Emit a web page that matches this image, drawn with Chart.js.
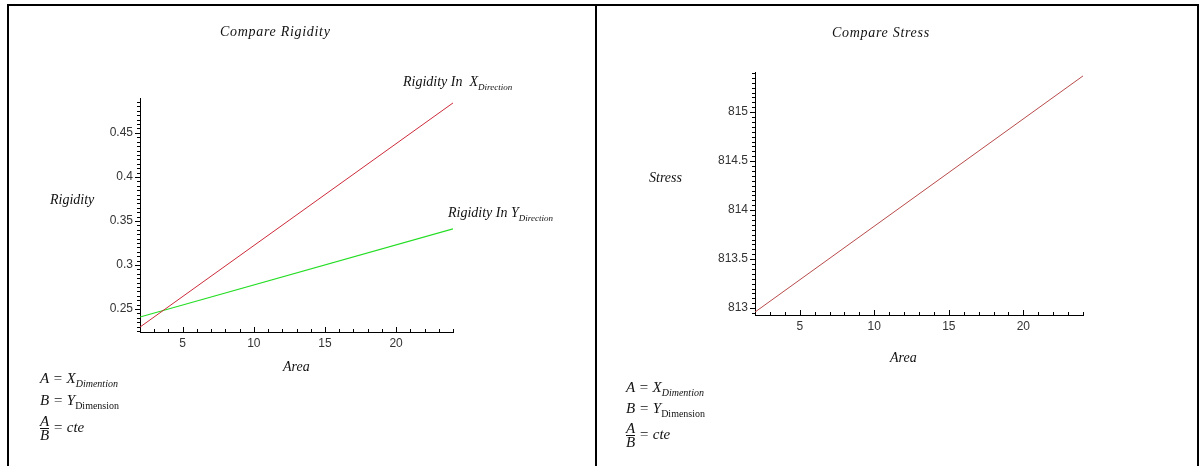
<!DOCTYPE html>
<html>
<head>
<meta charset="utf-8">
<script src="https://cdn.jsdelivr.net/npm/chart.js@4.4.1/dist/chart.umd.min.js"></script>
<style>
  body { margin: 0; background: #fff; width: 1202px; height: 466px; overflow: hidden; position: relative; }
  canvas { position: absolute; top: 0; }
  .line { position: absolute; background: #000; }
  .t { position: absolute; font-family: "Liberation Serif", "Times New Roman", serif; font-style: italic; font-size: 14px; line-height: 14px; color: #111; white-space: nowrap; }
  .title { letter-spacing: 0.7px; }
  .sub { font-size: 9px; position: relative; top: 4px; }
  .f { font-size: 15px; line-height: 15px; }
  .f .sub { font-size: 10px; }
  .subr { font-size: 10px; font-style: normal; position: relative; top: 4px; }
  .frac { display: inline-block; vertical-align: middle; text-align: center; }
  .frac span { display: block; line-height: 13px; }
  .frac .num { border-bottom: 1px solid #111; }
</style>
</head>
<body>
<div class="line" style="left:7px;top:4px;width:1192px;height:2px"></div>
<div class="line" style="left:7px;top:4px;width:2px;height:462px"></div>
<div class="line" style="left:595px;top:4px;width:2px;height:462px"></div>
<div class="line" style="left:1197px;top:4px;width:2px;height:462px"></div>

<canvas id="rigidityChart" width="598" height="466" style="left:0"></canvas>
<canvas id="stressChart" width="602" height="466" style="left:598px"></canvas>

<div class="t title" style="left:220px;top:25px">Compare Rigidity</div>
<div class="t" style="left:50px;top:193px">Rigidity</div>
<div class="t" style="left:283px;top:360px">Area</div>
<div class="t" style="left:403px;top:75px">Rigidity In&nbsp; X<span class="sub">Direction</span></div>
<div class="t" style="left:448px;top:206px">Rigidity In Y<span class="sub">Direction</span></div>

<div class="t f" style="left:40px;top:371px">A = X<span class="sub">Dimention</span></div>
<div class="t f" style="left:40px;top:393px">B = Y<span class="subr">Dimension</span></div>
<div class="t f" style="left:40px;top:415px"><span class="frac"><span class="num">A</span><span>B</span></span> = cte</div>

<div class="t title" style="left:832px;top:26px">Compare Stress</div>
<div class="t" style="left:649px;top:171px">Stress</div>
<div class="t" style="left:890px;top:351px">Area</div>

<div class="t f" style="left:626px;top:380px">A = X<span class="sub">Dimention</span></div>
<div class="t f" style="left:626px;top:401px">B = Y<span class="subr">Dimension</span></div>
<div class="t f" style="left:626px;top:422px"><span class="frac"><span class="num">A</span><span>B</span></span> = cte</div>

<script>
// data
var areas = [2, 24];
var rigidityX = [0.2296, 0.484];
var rigidityY = [0.241, 0.341];
var stress = [812.96, 815.37];

var areaTicks = [5, 10, 15, 20];
var rigidityTicks = [0.25, 0.3, 0.35, 0.4, 0.45];
var stressTicks = [813, 813.5, 814, 814.5, 815];

function points(xs, ys) {
  return xs.map(function (x, i) { return { x: x, y: ys[i] }; });
}

// maple style tick marks: x ticks point up, y ticks point left
function tickMarks(xMinor, yMinor, yMajor) {
  return {
    id: 'tickMarks',
    afterDraw: function (chart) {
      var ctx = chart.ctx;
      var xs = chart.scales.x, ys = chart.scales.y;
      var area = chart.chartArea;
      ctx.save();
      ctx.strokeStyle = '#000';
      ctx.lineWidth = 1;
      ctx.beginPath();
      for (var v = Math.ceil(xs.min / xMinor) * xMinor; v <= xs.max + 1e-9; v += xMinor) {
        var px = Math.round(xs.getPixelForValue(v)) + 0.5;
        var len = Math.abs(v % 5) < 1e-9 ? 5 : 3;
        ctx.moveTo(px, area.bottom);
        ctx.lineTo(px, area.bottom - len);
      }
      var n0 = Math.ceil(ys.min / yMinor - 1e-9);
      var n1 = Math.floor(ys.max / yMinor + 1e-9);
      for (var n = n0; n <= n1; n++) {
        var val = n * yMinor;
        var py = Math.round(ys.getPixelForValue(val)) + 0.5;
        var r = val / yMajor;
        var isMajor = Math.abs(r - Math.round(r)) < 1e-6;
        ctx.moveTo(area.left, py);
        ctx.lineTo(area.left - (isMajor ? 5 : 3), py);
      }
      ctx.stroke();
      ctx.restore();
    }
  };
}

function makeOptions(yMin, yMax, yTicks, padding) {
  return {
    responsive: false,
    animation: false,
    layout: { padding: padding },
    plugins: { legend: { display: false }, tooltip: { enabled: false }, title: { display: false } },
    scales: {
      x: {
        type: 'linear', min: 2, max: 24,
        grid: { display: false, drawTicks: false },
        border: { display: true, color: '#000', width: 1 },
        afterBuildTicks: function (s) { s.ticks = areaTicks.map(function (v) { return { value: v }; }); },
        afterFit: function (s) { s.height = 30; },
        ticks: {
          padding: 4, color: '#333', maxRotation: 0,
          font: { family: '"Liberation Sans", Arial, sans-serif', size: 12 },
          callback: function (v) { return String(v); }
        }
      },
      y: {
        type: 'linear', min: yMin, max: yMax,
        grid: { display: false, drawTicks: false },
        border: { display: true, color: '#000', width: 1 },
        afterBuildTicks: function (s) { s.ticks = yTicks.map(function (v) { return { value: v }; }); },
        afterFit: function (s) { s.width = padding.yw; },
        ticks: {
          padding: 7, color: '#333',
          font: { family: '"Liberation Sans", Arial, sans-serif', size: 12 },
          callback: function (v) { return String(v); }
        }
      }
    }
  };
}

var rigidityCtx = document.getElementById('rigidityChart').getContext('2d');
var rigidityChart = new Chart(rigidityCtx, {
  type: 'scatter',
  data: {
    datasets: [{
      label: 'Rigidity In X Direction',
      data: points(areas, rigidityX),
      showLine: true,
      borderColor: '#cc2a3a',
      borderWidth: 1,
      pointRadius: 0
    }, {
      label: 'Rigidity In Y Direction',
      data: points(areas, rigidityY),
      showLine: true,
      borderColor: '#22dd22',
      borderWidth: 1.2,
      pointRadius: 0
    }]
  },
  options: makeOptions(0.224, 0.4896, rigidityTicks, { left: 0, right: 145, top: 98, bottom: 104, yw: 140 }),
  plugins: [tickMarks(1, 0.005, 0.05)]
});

var stressCtx = document.getElementById('stressChart').getContext('2d');
var stressChart = new Chart(stressCtx, {
  type: 'scatter',
  data: {
    datasets: [{
      label: 'Stress',
      data: points(areas, stress),
      showLine: true,
      borderColor: '#b84a4a',
      borderWidth: 1,
      pointRadius: 0
    }]
  },
  options: makeOptions(812.93, 815.41, stressTicks, { left: 0, right: 602 - 485, top: 72, bottom: 466 - 315 - 30, yw: 157 }),
  plugins: [tickMarks(1, 0.05, 0.5)]
});
</script>
</body>
</html>
